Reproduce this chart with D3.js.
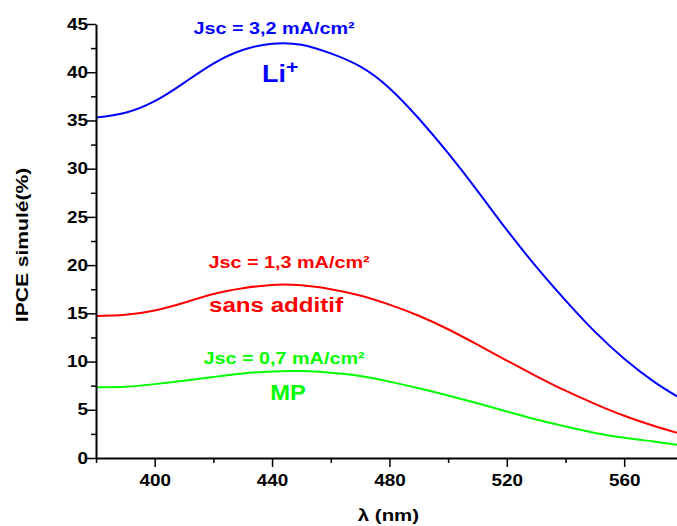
<!DOCTYPE html>
<html>
<head>
<meta charset="utf-8">
<script src="https://cdn.jsdelivr.net/npm/d3@7"></script>
<style>
html, body { margin: 0; padding: 0; background: #fff; }
svg { display: block; }
text { font-family: "Liberation Sans", Arial, sans-serif; font-weight: bold; }
</style>
</head>
<body>
<svg id="chart" width="677" height="526"></svg>
<script>
// ---- data ----
const wavelengths = [380, 390, 400, 410, 420, 430, 440, 450, 460, 470, 480, 490, 500, 510, 520, 530, 540, 550, 560, 570, 578];
const ipceLi      = [35.3, 35.8, 37.0, 38.9, 40.9, 42.3, 42.95, 42.85, 41.95, 40.6, 38.35, 35.2, 31.6, 27.7, 23.65, 19.85, 16.35, 13.1, 10.3, 7.95, 6.4];
const ipceSans    = [14.73, 14.85, 15.3, 16.1, 17.0, 17.6, 17.95, 17.9, 17.5, 16.85, 15.9, 14.75, 13.35, 11.75, 10.1, 8.5, 6.98, 5.62, 4.38, 3.35, 2.62];
const ipceMP      = [7.33, 7.38, 7.66, 8.01, 8.4, 8.77, 8.98, 9.01, 8.83, 8.5, 7.92, 7.23, 6.48, 5.67, 4.83, 4.0, 3.27, 2.6, 2.1, 1.72, 1.38];
const seriesNames = ["Li+", "sans additif", "MP"];
const seriesColors = ["#0000ff", "#ff0000", "#00ff00"];
const jscLabels = ["Jsc = 3,2 mA/cm²", "Jsc = 1,3 mA/cm²", "Jsc = 0,7 mA/cm²"];
const xMajorTicks = [400, 440, 480, 520, 560];
const xMinorTicks = [380, 420, 460, 500, 540];
const yMajorTicks = [0, 5, 10, 15, 20, 25, 30, 35, 40, 45];
const yMinorTicks = [2.5, 7.5, 12.5, 17.5, 22.5, 27.5, 32.5, 37.5, 42.5];
const xTitle = "λ (nm)";
const yTitle = "IPCE simulé(%)";

// ---- layout ----
const svg = d3.select("#chart");
svg.append("rect").attr("width", 677).attr("height", 526).attr("fill", "#fff");
const x = d3.scaleLinear().domain([380, 578]).range([96, 677]);
const y = d3.scaleLinear().domain([0, 45]).range([458, 24]);
const SX = 1.18; // horizontal glyph stretch

// curves
const allSeries = [ipceLi, ipceSans, ipceMP];
const line = d3.line().x((d, i) => x(wavelengths[i])).y(d => y(d)).curve(d3.curveNatural);
allSeries.forEach((s, k) => {
  svg.append("path").datum(s)
    .attr("d", line)
    .attr("fill", "none")
    .attr("stroke", seriesColors[k])
    .attr("stroke-width", 2);
});

// axes
const gx = svg.append("g").attr("transform", `translate(0,${y(0)})`);
gx.call(d3.axisBottom(x).tickValues(xMajorTicks).tickSize(9).tickSizeOuter(0).tickFormat(d3.format("d")));
const gxm = svg.append("g").attr("transform", `translate(0,${y(0)})`);
gxm.call(d3.axisBottom(x).tickValues(xMinorTicks).tickSize(5).tickSizeOuter(0).tickFormat(""));
gxm.select(".domain").remove();

const gy = svg.append("g").attr("transform", `translate(${x(380)},0)`);
gy.call(d3.axisLeft(y).tickValues(yMajorTicks).tickSize(9).tickSizeOuter(0).tickFormat(d3.format("d")));
const gym = svg.append("g").attr("transform", `translate(${x(380)},0)`);
gym.call(d3.axisLeft(y).tickValues(yMinorTicks).tickSize(5).tickSizeOuter(0).tickFormat(""));
gym.select(".domain").remove();

[gx, gxm, gy, gym].forEach(g => {
  g.selectAll(".domain").attr("stroke", "#000").attr("stroke-width", 2);
  g.selectAll(".tick line").attr("stroke", "#000").attr("stroke-width", 1.5);
});
gx.selectAll(".tick text")
  .attr("font-size", 16).attr("font-family", "Liberation Sans, Arial, sans-serif").attr("font-weight", "bold")
  .attr("fill", "#000").attr("y", 17).attr("dy", "0.71em")
  .attr("transform", `scale(${SX},1)`);
gy.selectAll(".tick text")
  .attr("font-size", 16).attr("font-family", "Liberation Sans, Arial, sans-serif").attr("font-weight", "bold")
  .attr("fill", "#000").attr("x", -8 / SX)
  .attr("transform", `scale(${SX},1)`);

// helper for stretched text
function label(txt, cx, cy, size, color, sx, rot) {
  const g = svg.append("g").attr("transform", `translate(${cx},${cy})` + (rot ? ` rotate(${rot})` : "") + ` scale(${sx},1)`);
  return g.append("text").attr("text-anchor", "middle").attr("font-size", size).attr("fill", color).text(txt);
}

// axis titles
label(xTitle, x(480) - 1, 521, 17, "#000", 1.2);
label(yTitle, 28, 245, 17, "#000", 1.24, -90);

// annotations
label(jscLabels[0], 274, 34, 16.5, seriesColors[0], 1.2);
label(jscLabels[1], 289, 268, 16.5, seriesColors[1], 1.2);
label(jscLabels[2], 284, 364, 16.5, seriesColors[2], 1.2);

// Li+ with superscript plus
const li = svg.append("g").attr("transform", `translate(262,82) scale(1.17,1)`);
const liText = li.append("text").attr("font-size", 23).attr("fill", seriesColors[0]);
liText.append("tspan").text("Li");
liText.append("tspan").attr("font-size", 18).attr("dy", -9).text("+");

label(seriesNames[1], 276, 312, 21, seriesColors[1], 1.15);
label(seriesNames[2], 288, 400, 22, seriesColors[2], 1.08);
</script>
</body>
</html>
